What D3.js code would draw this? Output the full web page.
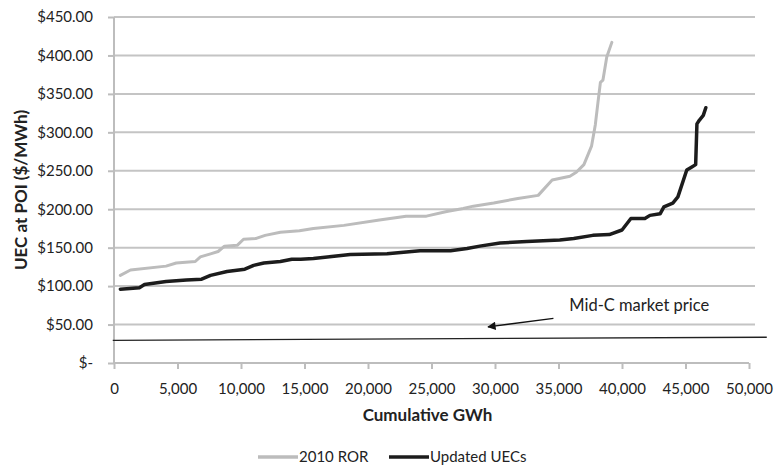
<!DOCTYPE html>
<meta charset="utf-8">
<style>
body { margin: 0; background: #fff; font-family: Lato, "Open Sans", sans-serif; color: #222; }
.grid line { stroke: #c4c4c4; stroke-width: 2; }
.axis path, .axis line { stroke: #bdbdbd; stroke-width: 2; fill: none; }
.axis text { font-family: Lato, sans-serif; font-size: 15px; fill: #222; }
.series { fill: none; stroke-linejoin: round; stroke-linecap: round; }
.title { font-family: Lato, sans-serif; font-size: 17px; font-weight: bold; fill: #222; }
.label { font-family: Lato, sans-serif; font-size: 16.5px; fill: #222; }
</style>
<body>
<div id="chart"></div>
<script src="https://d3js.org/d3.v7.min.js"></script>
<script>
// values (cumulative GWh, $/MWh)
var rorGWh = [500,1300,4100,4900,6400,6800,7600,8200,8700,9700,10200,11200,11900,13100,14600,15700,18100,20900,23000,24600,26200,27500,28300,29900,31800,33400,34500,35900,36400,37000,37600,37900,38100,38300,38500,38800,39200];
var rorUEC = [114,121,126,130,132,138,142,145,152,153,161,162,166,170,172,175,179,186,191,191,197,201,204,208,214,218,238,243,248,258,282,310,338,365,368,398,417];

var updGWh = [500,2000,2400,4100,5700,6900,7600,8900,10300,11000,11800,13100,14000,14700,15700,18600,21500,24100,26500,27800,28800,30400,32500,35100,36200,37700,39000,40000,40700,41800,42200,43000,43300,44000,44400,45100,45500,45800,45900,46100,46400,46600];
var updUEC = [96,98,102,106,108,109,114,119,122,127,130,132,135,135,136,141,142,146,146,149,152,156,158,160,162,166,167,173,188,188,192,194,203,208,216,251,255,258,311,316,322,332];

// Mid-C market price line and its callout
var midcGWh = [-100, 51400];
var midcPrice = [29.5, 33.5];
var arrowGWh = [34600, 29450];
var arrowPrice = [58, 47];

var xTicks = [0,5000,10000,15000,20000,25000,30000,35000,40000,45000,50000];
var yTicks = [0,50,100,150,200,250,300,350,400,450];
var seriesNames = ["2010 ROR", "Updated UECs"];
var seriesColors = ["#bcbcbc", "#1c1c1c"];

var margin = {top: 17, right: 29, bottom: 103, left: 114},
    width = 779 - margin.left - margin.right,
    height = 466 - margin.top - margin.bottom;

var svg = d3.select("#chart").append("svg")
    .attr("width", 779)
    .attr("height", 466);
var g = svg.append("g")
    .attr("transform", "translate(" + margin.left + "," + margin.top + ")");

var x = d3.scaleLinear().domain([0, 50000]).range([0, 635]);
var y = d3.scaleLinear().domain([0, 450]).range([height, 0]);

// horizontal gridlines
g.append("g").attr("class", "grid")
  .selectAll("line")
  .data(yTicks.slice(1))
  .enter().append("line")
    .attr("x1", 0)
    .attr("x2", x(50000) + 6)
    .attr("y1", function(d) { return y(d); })
    .attr("y2", function(d) { return y(d); });

// axes
var yAxis = g.append("g").attr("class", "axis")
    .call(d3.axisLeft(y).tickValues(yTicks).tickSize(6).tickPadding(15)
      .tickFormat(function(d) { return d === 0 ? "$-" : "$" + d3.format(".2f")(d); }));
yAxis.select(".domain").attr("d", "M0," + y(0) + "V" + y(450));

var xAxis = g.append("g").attr("class", "axis")
    .attr("transform", "translate(0," + height + ")")
    .call(d3.axisBottom(x).tickValues(xTicks).tickSize(6).tickPadding(14)
      .tickFormat(d3.format(",")));
xAxis.select(".domain").attr("d", "M0,0H" + x(50000));

// series lines
var line = d3.line()
    .x(function(d) { return x(d[0]); })
    .y(function(d) { return y(d[1]); });

g.append("path")
    .datum(d3.zip(rorGWh, rorUEC))
    .attr("class", "series")
    .attr("stroke", seriesColors[0])
    .attr("stroke-width", 3)
    .attr("d", line);

g.append("path")
    .datum(d3.zip(updGWh, updUEC))
    .attr("class", "series")
    .attr("stroke", seriesColors[1])
    .attr("stroke-width", 3.5)
    .attr("d", line);

// market price line
g.append("path")
    .datum(d3.zip(midcGWh, midcPrice))
    .attr("fill", "none")
    .attr("stroke", "#222")
    .attr("stroke-width", 1.3)
    .attr("d", line);

// arrow callout
svg.append("defs").append("marker")
    .attr("id", "arrow")
    .attr("viewBox", "0 0 10 10")
    .attr("refX", 9).attr("refY", 5)
    .attr("markerWidth", 7).attr("markerHeight", 6)
    .attr("orient", "auto")
  .append("path")
    .attr("d", "M0,0L10,5L0,10z")
    .attr("fill", "#111");

g.append("path")
    .datum(d3.zip(arrowGWh, arrowPrice))
    .attr("fill", "none")
    .attr("stroke", "#111")
    .attr("stroke-width", 1.4)
    .attr("marker-end", "url(#arrow)")
    .attr("d", line);

g.append("text")
    .attr("class", "label")
    .attr("x", x(35850))
    .attr("y", y(67))
    .text("Mid-C market price");

// axis titles
svg.append("text")
    .attr("class", "title")
    .attr("x", margin.left + x(25000) - 4)
    .attr("y", 421)
    .attr("text-anchor", "middle")
    .text("Cumulative GWh");

svg.append("text")
    .attr("class", "title")
    .attr("transform", "rotate(-90)")
    .attr("x", -190)
    .attr("y", 27)
    .attr("text-anchor", "middle")
    .text("UEC at POI ($/MWh)");

// legend
var legend = svg.append("g")
    .attr("transform", "translate(258,457)");
var item = legend.selectAll("g")
    .data(seriesNames)
  .enter().append("g")
    .attr("transform", function(d, i) { return "translate(" + (i * 131) + ",0)"; });
item.append("line")
    .attr("x1", 0).attr("x2", 40)
    .attr("stroke", function(d, i) { return seriesColors[i]; })
    .attr("stroke-width", 3.5);
item.append("text")
    .attr("class", "label")
    .attr("x", 41)
    .attr("dy", "0.35em")
    .style("font-size", "15px")
    .text(function(d) { return d; });
</script>
</body>
